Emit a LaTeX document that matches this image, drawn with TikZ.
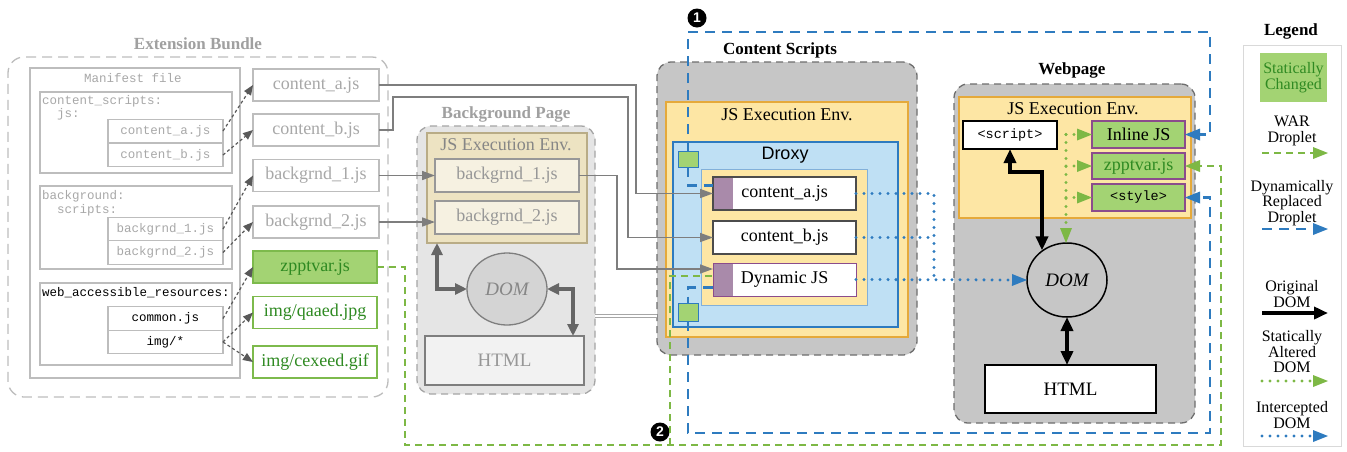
\documentclass[tikz,border=0pt]{standalone}
\usepackage{fontspec}
\setmainfont{Liberation Serif}
\setsansfont{Liberation Sans}
\setmonofont{Liberation Mono}
\usetikzlibrary{arrows.meta,calc,shapes.geometric}
\newcommand\sz[2]{\fontsize{#1}{#2}\selectfont}
\definecolor{txtgray}{HTML}{A8A8A8}
\definecolor{boxgray}{HTML}{BDBDBD}
\definecolor{ttlgray}{HTML}{A0A0A0}
\definecolor{regfill}{HTML}{C6C6C6}
\definecolor{regline}{HTML}{6E6E6E}
\definecolor{bgfill}{HTML}{E5E5E5}
\definecolor{bgline}{HTML}{A5A5A5}
\definecolor{yel}{HTML}{FDE6A4}
\definecolor{yelline}{HTML}{E5A93A}
\definecolor{tanfill}{HTML}{EDE3C2}
\definecolor{tanline}{HTML}{B9AC86}
\definecolor{tanbox}{HTML}{F6F1E1}
\definecolor{lblue}{HTML}{BFE0F4}
\definecolor{dblue}{HTML}{2E7BBF}
\definecolor{sgreen}{HTML}{A3D373}
\definecolor{wgreen}{HTML}{7DBA4C}
\definecolor{dkgreen}{HTML}{2F8A22}
\definecolor{purp}{HTML}{A98AAA}
\definecolor{purpline}{HTML}{8B4C8C}
\definecolor{grn}{HTML}{7DB845}
\definecolor{lgray}{HTML}{7E7E7E}
\tikzset{
  every node/.style={inner sep=0pt, outer sep=0pt},
  title/.style={font=\bfseries\sz{17}{20}, text=black},
  gtitle/.style={title, text=ttlgray},
  serif/.style={font=\sz{18}{21}},
  mono/.style={font=\ttfamily\sz{12.5}{14}},
  fbox/.style={draw=boxgray, line width=1.4pt, text=txtgray, serif, minimum width=126pt, minimum height=32pt},
  wbox/.style={fbox, draw=wgreen, text=dkgreen},
  mbox/.style={draw=boxgray, line width=1.1pt, mono, text=txtgray, minimum width=115pt, minimum height=23.5pt},
  msub/.style={draw=boxgray, line width=2pt, minimum width=192pt},
  bundle/.style={draw=boxgray, line width=1.3pt, dash pattern=on 10pt off 6pt, rounded corners=16pt},
  region/.style={draw=regline, fill=regfill, line width=1.3pt, dash pattern=on 7pt off 5pt, rounded corners=14pt},
  bgregion/.style={draw=bgline, fill=bgfill, line width=1.3pt, dash pattern=on 7pt off 5pt, rounded corners=14pt},
  yenv/.style={draw=yelline, fill=yel, line width=1.6pt},
  csbox/.style={draw=black!70, line width=1.6pt, fill=white, serif, minimum width=143pt, minimum height=33pt},
  gbox/.style={draw=purpline, fill=sgreen, line width=1.8pt, serif, minimum width=93pt},
  sq/.style={draw=dblue, fill=sgreen, line width=1pt, minimum width=20pt},
  bdash/.style={draw=dblue, line width=2.8pt, dash pattern=on 10pt off 7pt},
  gdash/.style={draw=grn, line width=2.8pt, dash pattern=on 7pt off 5pt},
  bdot/.style={draw=dblue, line width=3.3pt, line cap=round, dash pattern=on 0pt off 8pt},
  gdot/.style={draw=grn, line width=3.3pt, line cap=round, dash pattern=on 0pt off 8pt},
  btip/.style={-{Triangle[length=15pt,width=12pt,fill=dblue,color=dblue,line width=0pt]}},
  gtip/.style={-{Triangle[length=15pt,width=12pt,fill=grn,color=grn,line width=0pt]}},
  mlink/.style={draw=black!65, line width=1.2pt, dash pattern=on 3pt off 2.5pt, -{Triangle[length=10pt,width=8pt]}},
  glink/.style={draw=lgray, line width=1.6pt, -{Triangle[length=13pt,width=9pt]}},
  bgarrow/.style={draw=gray!80!black, line width=3.2pt, {Triangle[length=12pt,width=11pt]}-{Triangle[length=12pt,width=11pt]}},
  blk/.style={draw=black, line width=3.8pt, {Triangle[length=14pt,width=12pt]}-{Triangle[length=14pt,width=12pt]}},
  lgtext/.style={font=\sz{16}{15.5}, align=center},
  numc/.style={circle, fill=black, text=white, font=\bfseries\sffamily\sz{14}{14}, minimum size=19pt}
}
\begin{document}
\begin{tikzpicture}[x=1pt,y=-1pt]
\useasboundingbox[fill=white] (0,0) rectangle (1347,451);

% ---------------- Extension bundle
\node[gtitle] (tEB) at (198,44) {Extension Bundle};
\node[bundle, minimum width=380pt, minimum height=340pt] (bundle) at (198,227) {};
\node[draw=boxgray, line width=2pt, minimum width=210pt, minimum height=310pt] (manifest) at (135,223) {};
\node[mono, text=txtgray] (tMF) at (133,78) {Manifest file};
\node[msub, minimum height=81pt] (mcs) at (136,132.5) {};
\node[msub, minimum height=83pt] (mbg) at (136,227.5) {};
\node[msub, minimum height=82pt] (mwar) at (136,324) {};
\node[mono, text=txtgray, anchor=west] (tcs1) at (42,101) {content\_scripts:};
\node[mono, text=txtgray, anchor=west] (tcs2) at (57,114) {js:};
\node[mono, text=txtgray, anchor=west] (tbg1) at (42,196) {background:};
\node[mono, text=txtgray, anchor=west] (tbg2) at (57,210) {scripts:};
\node[mono, text=black, anchor=west] (twar) at (42,293) {web\_accessible\_resources:};
\node[mbox] (mca) at (165.5,131) {content\_a.js};
\node[mbox] (mcb) at (165.5,155) {content\_b.js};
\node[mbox] (mb1) at (165.5,229) {backgrnd\_1.js};
\node[mbox] (mb2) at (165.5,252.5) {backgrnd\_2.js};
\node[mbox, text=black] (mcom) at (165.5,318.5) {common.js};
\node[mbox, text=black] (mimg) at (165.5,342) {img/*};

\node[fbox] (fca) at (316,85) {content\_a.js};
\node[fbox] (fcb) at (316,130) {content\_b.js};
\node[fbox] (fb1) at (316,175.5) {backgrnd\_1.js};
\node[fbox] (fb2) at (316,222) {backgrnd\_2.js};
\node[wbox, fill=sgreen, minimum width=124pt] (fzp) at (315,267) {zpptvar.js};
\node[wbox, minimum width=124pt] (fqa) at (315,312.5) {img/qaaed.jpg};
\node[wbox, minimum width=124pt] (fce) at (315,362) {img/cexeed.gif};

% ---------------- Background page
\node[gtitle] (tBG) at (506,114) {Background Page};
\node[bgregion, minimum width=178pt, minimum height=268pt] (bgpage) at (506,260) {};
\node[draw=tanline, fill=tanfill, line width=1.6pt, minimum width=160pt, minimum height=110pt] (bgjs) at (507,188) {};
\node[serif, text=txtgray!80!black] (tbgjs) at (506,145) {JS Execution Env.};
\node[draw=lgray!80, fill=tanbox, line width=1.2pt, serif, text=txtgray!90!black, minimum width=144pt, minimum height=33pt] (bgb1) at (507,175.5) {backgrnd\_1.js};
\node[draw=lgray!80, fill=tanbox, line width=1.2pt, serif, text=txtgray!90!black, minimum width=144pt, minimum height=33pt] (bgb2) at (507,217.5) {backgrnd\_2.js};
\node[ellipse, draw=lgray, fill=black!17, line width=1.3pt, minimum width=80pt, minimum height=72pt, font=\itshape\sz{19}{22}, text=txtgray!80!black] (bgdom) at (507,289) {DOM};
\node[draw=lgray, fill=black!5, line width=1.4pt, minimum width=159pt, minimum height=49pt, font=\sz{19}{22}, text=txtgray!90!black] (bghtml) at (504.5,360.5) {HTML};

% ---------------- Content scripts
\node[title] (tCS) at (780,50) {Content Scripts};
\node[region, minimum width=260pt, minimum height=293pt] (cs) at (787,208.5) {};
\node[yenv, minimum width=242pt, minimum height=235pt] (csjs) at (787,219.5) {};
\node[serif] (tcsjs) at (787,115) {JS Execution Env.};
\node[draw=dblue, fill=lblue, line width=1.6pt, minimum width=225pt, minimum height=185pt] (droxy) at (785.5,234.5) {};
\node[font=\sffamily\sz{18}{21}] (tdroxy) at (785,155) {Droxy};
\node[draw=dblue!60, fill=yel, line width=0.8pt, minimum width=166pt, minimum height=136pt] (inner) at (784,237) {};
\node[csbox] (ca) at (784.5,193.5) {};
\node[csbox] (cb) at (784.5,237.5) {content\_b.js};
\node[csbox, draw=purpline, line width=1pt] (cd) at (784.5,279.5) {};
\fill[purp] ($(ca.north west)+(0.8,0.8)$) rectangle ($(ca.south west)+(20,-0.8)$);
\fill[purp] ($(cd.north west)+(0.5,0.5)$) rectangle ($(cd.south west)+(20,-0.5)$);
\node[serif] (tca) at (ca.center) {content\_a.js};
\node[serif] (tcd) at (cd.center) {Dynamic JS};
\node[sq, minimum height=16pt] (sq1) at (688,159) {};
\node[sq, minimum height=18pt] (sq2) at (688,312) {};

% ---------------- Webpage
\node[title] (tWP) at (1072,70) {Webpage};
\node[region, minimum width=241pt, minimum height=339pt] (wp) at (1074.5,253.5) {};
\node[yenv, minimum width=232pt, minimum height=121pt] (wpjs) at (1075,157.5) {};
\node[serif] (twpjs) at (1073,109) {JS Execution Env.};
\node[draw=black, fill=white, line width=2pt, font=\ttfamily\sz{13.5}{15}, minimum width=94pt, minimum height=28pt] (script) at (1010,135) {<script>};
\node[gbox, minimum height=27pt] (inl) at (1138.5,134.5) {Inline JS};
\node[gbox, minimum height=26pt, text=dkgreen] (zp) at (1138.5,166) {zpptvar.js};
\node[gbox, minimum height=27pt, font=\ttfamily\sz{13.5}{15}] (sty) at (1138.5,197.5) {<style>};
\node[ellipse, draw=black, fill=regfill, line width=1.5pt, minimum width=80pt, minimum height=74pt, font=\itshape\sz{19}{22}] (dom) at (1067,280) {DOM};
\node[draw=black, fill=white, line width=1.6pt, minimum width=171pt, minimum height=48pt, font=\sz{19}{22}] (html) at (1070.5,389) {HTML};

% ---------------- Legend
\node[title] (tLG) at (1291,31) {Legend};
\node[draw=black!15, line width=1pt, minimum width=98pt, minimum height=401pt] (legend) at (1292,245.5) {};
\node[fill=sgreen, minimum width=67pt, minimum height=49pt, lgtext, text=dkgreen] (lgsc) at (1293.5,77.5) {Statically\\Changed};
\node[lgtext] (lgwar) at (1292,131) {WAR\\Droplet};
\node[lgtext] (lgdyn) at (1292,203) {Dynamically\\Replaced\\Droplet};
\node[lgtext] (lgorig) at (1292,294) {Original\\DOM};
\node[lgtext] (lgsa) at (1292,352) {Statically\\Altered\\DOM};
\node[lgtext] (lgint) at (1292,415) {Intercepted\\DOM};
\coordinate (l1a) at (1262,153); \coordinate (l1b) at (1328,153);
\coordinate (l2a) at (1262,229); \coordinate (l2b) at (1328,229);
\coordinate (l3a) at (1262,313); \coordinate (l3b) at (1328,313);
\coordinate (l4a) at (1262,381); \coordinate (l4b) at (1328,381);
\coordinate (l5a) at (1262,436); \coordinate (l5b) at (1328,436);
\draw[gdash, gtip] (l1a) -- (l1b);
\draw[bdash, btip] (l2a) -- (l2b);
\draw[draw=black, line width=3.8pt, -{Triangle[length=14pt,width=12pt]}] (l3a) -- (l3b);
\draw[gdot, gtip] (l4a) -- (l4b);
\draw[bdot, btip] (l5a) -- (l5b);

% ---------------- numbered markers
\node[numc] (n1) at (697,18) {1};
\node[numc] (n2) at (660,432) {2};

% ---------------- manifest links
\draw[mlink] (mca.east) -- (fca.west);
\draw[mlink] (mcb.east) -- (fcb.west);
\draw[mlink] (mb1.east) -- (fb1.west);
\draw[mlink] (mb2.east) -- (fb2.west);
\draw[mlink] (mcom.east) -- (fzp.west);
\draw[mlink] (mimg.east) -- (fqa.west);
\draw[mlink] (mimg.east) -- (fce.west);

% ---------------- file links
\draw[glink] (fca.east) -| ($(ca.west)+(-77,0)$) -- (ca.west);
\coordinate (cbk) at (628,97);
\draw[glink] (fcb.east) -- ++(14,0) |- (cbk) |- (cb.west);
\draw[glink] (fb1.east) -- (bgb1.west);
\draw[glink] (fb2.east) -- (fb2.east -| bgb2.west);
\coordinate (dyn) at (617,269);
\draw[glink] (bgb1.east) -| (dyn) -- (dyn -| cd.west);
\coordinate (dbl) at (600,316);
\draw[draw=black!35, double=white, double distance=1.5pt, line width=0.9pt] (bgpage.east |- dbl) -- (cs.west |- dbl);
\draw[bgarrow] ($(bgjs.south west)+(10,0)$) |- (bgdom.west);
\draw[bgarrow] (bgdom.east) -| ($(bghtml.north east)+(-11,0)$);

% ---------------- dynamically replaced droplet (blue dashed)
\coordinate (bTL) at (688,32);
\coordinate (bTR) at (1210,32);
\coordinate (bBR) at (1210,433);
\draw[bdash, btip] (sq1.north) -- (bTL) -- (bTR) |- (inl.east);
\draw[bdash] (sq1.south) |- ($(ca.west)+(0,-8)$);
\draw[bdash] ($(cd.west)+(0,8)$) -| (sq2.north);
\draw[bdash, btip] (sq2.south) |- (bBR) |- (sty.east);

% ---------------- WAR droplet (green dashed)
\coordinate (gBL) at (405,445);
\coordinate (gBR) at (1221,445);
\coordinate (gJ) at (670,445);
\draw[gdash, gtip] (fzp.east) -| (gBL) -- (gBR) |- (zp.east);
\draw[gdash] (gJ) |- ($(cd.west)+(0,-3.5)$);

% ---------------- intercepted DOM (blue dotted)
\draw[bdot] (ca.east) -| ($(cd.east)+(78,0)$);
\draw[bdot] (cb.east) -- ($(cb.east)+(78,0)$);
\draw[bdot, btip] (cd.east) -- (dom.west);

% ---------------- statically altered DOM (green dotted)
\coordinate (gv) at (1066,134.5);
\draw[gdot, gtip] (gv) -- (gv |- dom.north);
\draw[gdot, gtip] (gv) -- (inl.west);
\draw[gdot, gtip] (gv |- zp.west) -- (zp.west);
\draw[gdot, gtip] (gv |- sty.west) -- (sty.west);

% ---------------- original DOM (black)
\coordinate (bk) at (1042,172);
\draw[blk] (script.south) |- (bk) -- (bk |- dom.129);
\draw[blk] (dom.south) -- (dom.south |- html.north);
\end{tikzpicture}
\end{document}
